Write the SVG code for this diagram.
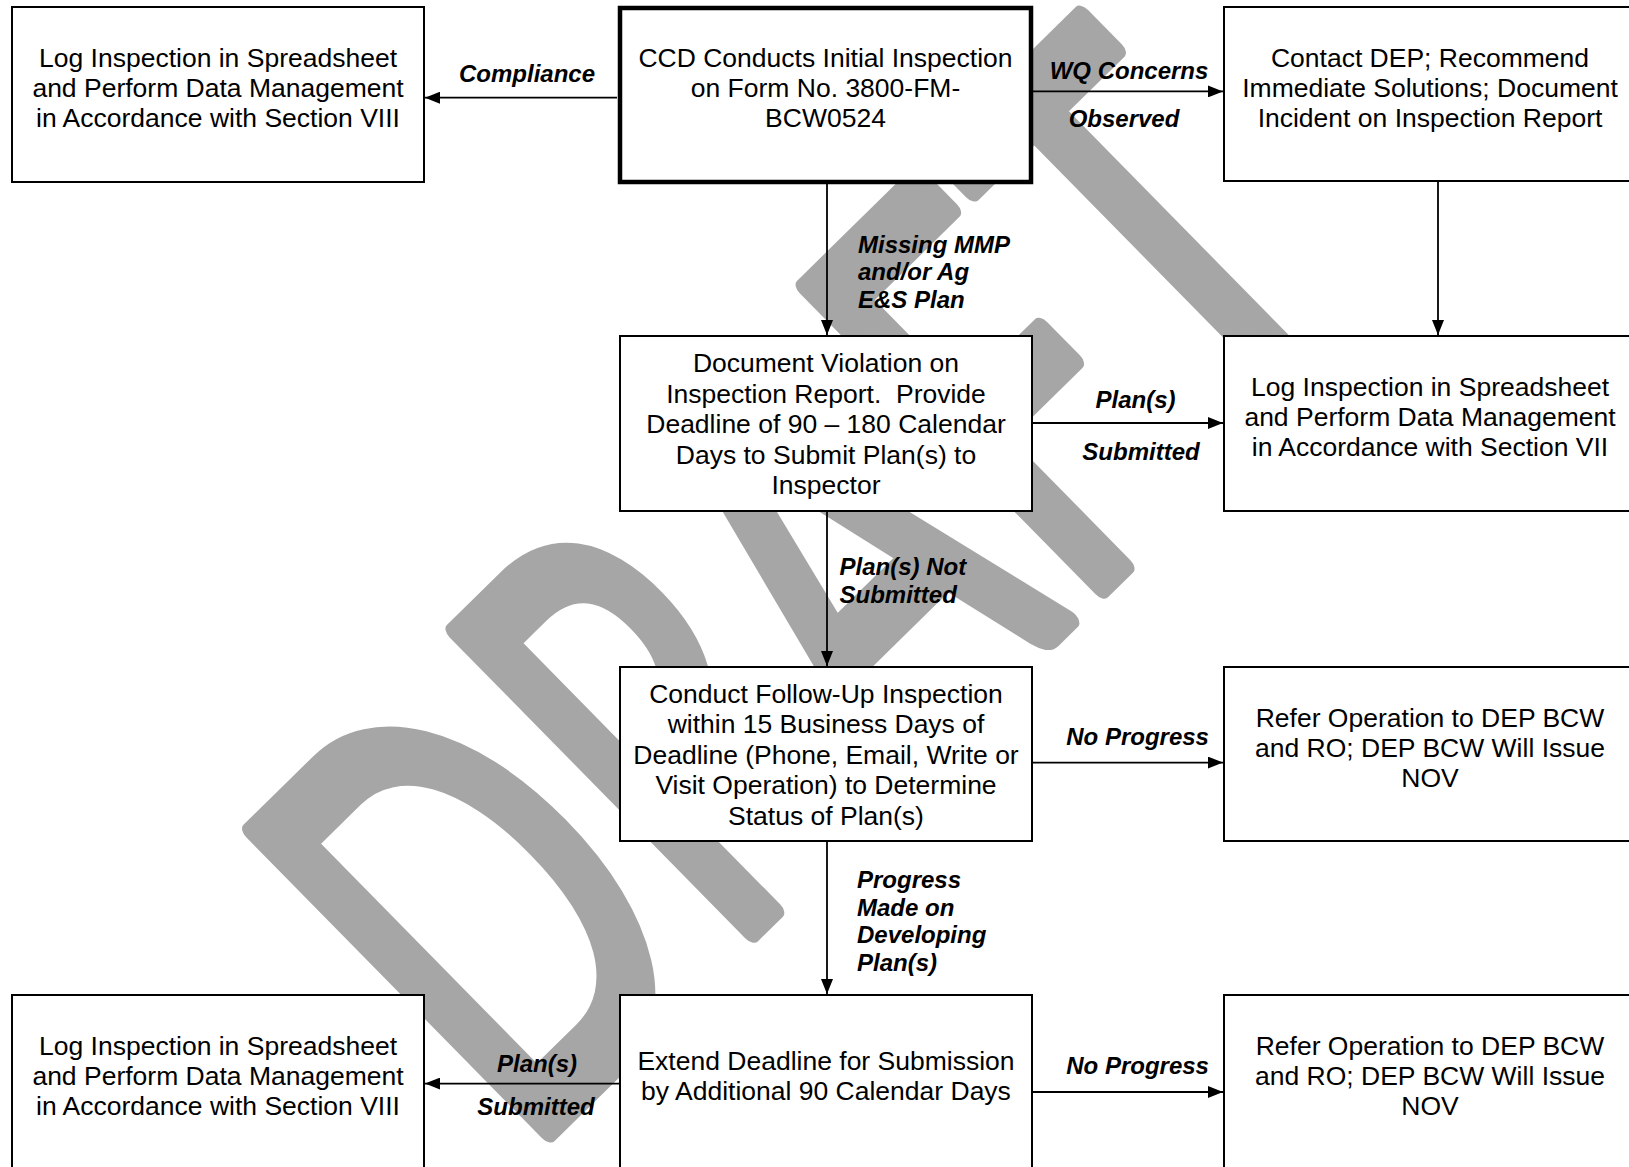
<svg xmlns="http://www.w3.org/2000/svg" width="1629" height="1167" viewBox="0 0 1629 1167">
<style>
.bg{fill:#ffffff}
.box{fill:#ffffff;stroke:#000000;stroke-width:2}
.thick{stroke-width:4.5}
.t{font-family:"Liberation Sans",Arial,sans-serif;font-size:26.5px;text-anchor:middle;fill:#000000}
.lbl{font-family:"Liberation Sans",Arial,sans-serif;font-size:24px;font-weight:bold;font-style:italic;fill:#000000}
.mid{text-anchor:middle}
.c{stroke:#000000;stroke-width:1.8;fill:none;marker-end:url(#ah)}
.wm{font-family:Lato,"Open Sans",sans-serif;font-size:589px;fill:#a6a6a6;stroke:#a6a6a6;stroke-width:18;stroke-linejoin:round;vector-effect:non-scaling-stroke}
</style>
<defs>
<marker id="ah" viewBox="0 0 15 12" refX="15" refY="6" markerWidth="15" markerHeight="12" markerUnits="userSpaceOnUse" orient="auto">
<path d="M0,0 L15,6 L0,12 Z" fill="#000000"/>
</marker>
</defs>
<rect class="bg" x="0" y="0" width="1629" height="1167"/>
<g id="watermark">
<text class="wm" transform="translate(523,1157) rotate(-44.5) scale(0.62,1)" letter-spacing="12">DRAFT</text>
</g>
<g id="n-log-top">
<rect class="box" x="12" y="7" width="412" height="175"/>
<text class="t" x="218" y="66.6">Log Inspection in Spreadsheet</text>
<text class="t" x="218" y="96.8">and Perform Data Management</text>
<text class="t" x="218" y="127">in Accordance with Section VIII</text>
</g>
<g id="n-ccd">
<rect class="box thick" x="620" y="8" width="411" height="174"/>
<text class="t" x="825.5" y="66.6">CCD Conducts Initial Inspection</text>
<text class="t" x="825.5" y="96.8">on Form No. 3800-FM-</text>
<text class="t" x="825.5" y="127">BCW0524</text>
</g>
<g id="n-contact">
<rect class="box" x="1224" y="7" width="412" height="174"/>
<text class="t" x="1430" y="66.6">Contact DEP; Recommend</text>
<text class="t" x="1430" y="96.8">Immediate Solutions; Document</text>
<text class="t" x="1430" y="127">Incident on Inspection Report</text>
</g>
<g id="n-docviol">
<rect class="box" x="620" y="336" width="412" height="175"/>
<text class="t" x="826" y="372">Document Violation on</text>
<text class="t" x="826" y="402.5" xml:space="preserve">Inspection Report.  Provide</text>
<text class="t" x="826" y="433">Deadline of 90 – 180 Calendar</text>
<text class="t" x="826" y="463.5">Days to Submit Plan(s) to</text>
<text class="t" x="826" y="494">Inspector</text>
</g>
<g id="n-log-vii">
<rect class="box" x="1224" y="336" width="412" height="175"/>
<text class="t" x="1430" y="396">Log Inspection in Spreadsheet</text>
<text class="t" x="1430" y="426">and Perform Data Management</text>
<text class="t" x="1430" y="456">in Accordance with Section VII</text>
</g>
<g id="n-conduct">
<rect class="box" x="620" y="667" width="412" height="174"/>
<text class="t" x="826" y="702.5">Conduct Follow-Up Inspection</text>
<text class="t" x="826" y="733">within 15 Business Days of</text>
<text class="t" x="826" y="763.5">Deadline (Phone, Email, Write or</text>
<text class="t" x="826" y="794">Visit Operation) to Determine</text>
<text class="t" x="826" y="824.5">Status of Plan(s)</text>
</g>
<g id="n-refer1">
<rect class="box" x="1224" y="667" width="412" height="174"/>
<text class="t" x="1430" y="726.5">Refer Operation to DEP BCW</text>
<text class="t" x="1430" y="756.5">and RO; DEP BCW Will Issue</text>
<text class="t" x="1430" y="786.5">NOV</text>
</g>
<g id="n-log-bottom">
<rect class="box" x="12" y="995" width="412" height="180"/>
<text class="t" x="218" y="1054.5">Log Inspection in Spreadsheet</text>
<text class="t" x="218" y="1084.5">and Perform Data Management</text>
<text class="t" x="218" y="1114.5">in Accordance with Section VIII</text>
</g>
<g id="n-extend">
<rect class="box" x="620" y="995" width="412" height="180"/>
<text class="t" x="826" y="1070">Extend Deadline for Submission</text>
<text class="t" x="826" y="1100">by Additional 90 Calendar Days</text>
</g>
<g id="n-refer2">
<rect class="box" x="1224" y="995" width="412" height="180"/>
<text class="t" x="1430" y="1054.5">Refer Operation to DEP BCW</text>
<text class="t" x="1430" y="1084.5">and RO; DEP BCW Will Issue</text>
<text class="t" x="1430" y="1114.5">NOV</text>
</g>
<g id="connectors">
<line class="c" x1="617" y1="97.7" x2="425" y2="97.7"/>
<line class="c" x1="1033" y1="91.4" x2="1223" y2="91.4"/>
<line class="c" x1="1438" y1="182" x2="1438" y2="335"/>
<line class="c" x1="827" y1="184" x2="827" y2="335"/>
<line class="c" x1="1032" y1="423" x2="1223" y2="423"/>
<line class="c" x1="827" y1="511" x2="827" y2="666"/>
<line class="c" x1="1032" y1="762.6" x2="1223" y2="762.6"/>
<line class="c" x1="827" y1="841" x2="827" y2="994"/>
<line class="c" x1="620" y1="1083.6" x2="425" y2="1083.6"/>
<line class="c" x1="1032" y1="1092" x2="1223" y2="1092"/>
<text class="lbl mid" x="527" y="82">Compliance</text>
<text class="lbl mid" x="1129" y="79">WQ Concerns</text>
<text class="lbl mid" x="1124" y="127">Observed</text>
<text class="lbl" x="858" y="252.5">Missing MMP</text>
<text class="lbl" x="858" y="280">and/or Ag</text>
<text class="lbl" x="858" y="307.5">E&amp;S Plan</text>
<text class="lbl mid" x="1135.5" y="407.5">Plan(s)</text>
<text class="lbl mid" x="1141" y="459.5">Submitted</text>
<text class="lbl" x="839.5" y="574.5">Plan(s) Not</text>
<text class="lbl" x="839.5" y="602.5">Submitted</text>
<text class="lbl mid" x="1137.6" y="745">No Progress</text>
<text class="lbl" x="857" y="887.5">Progress</text>
<text class="lbl" x="857" y="915.5">Made on</text>
<text class="lbl" x="857" y="942.5">Developing</text>
<text class="lbl" x="857" y="970.5">Plan(s)</text>
<text class="lbl mid" x="537" y="1071.5">Plan(s)</text>
<text class="lbl mid" x="536" y="1115">Submitted</text>
<text class="lbl mid" x="1137.6" y="1073.5">No Progress</text>
</g>
</svg>
